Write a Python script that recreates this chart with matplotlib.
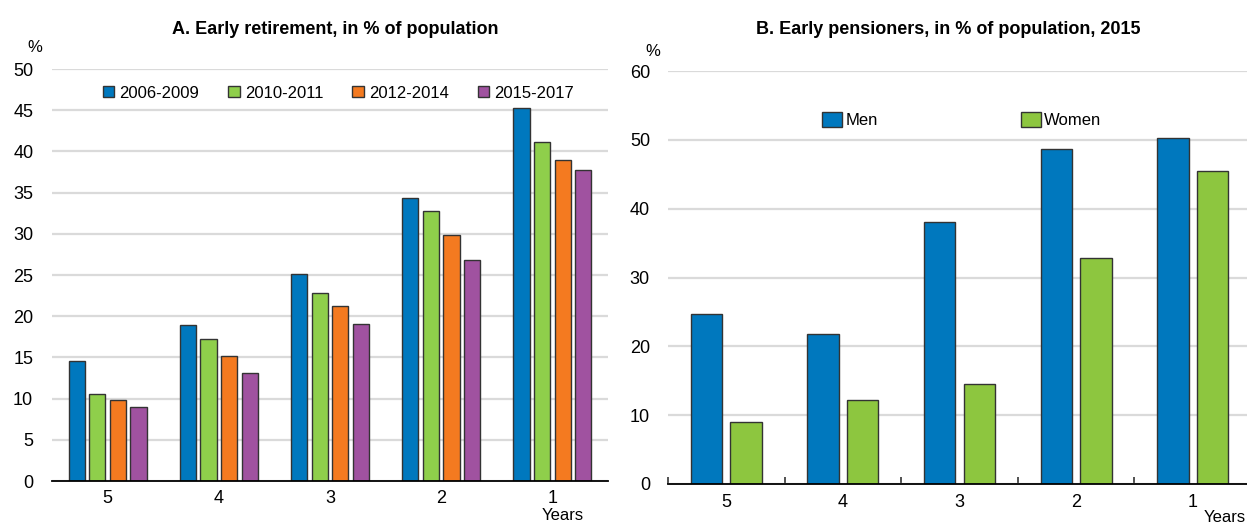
import matplotlib
matplotlib.use("Agg")
import matplotlib.pyplot as plt
import numpy as np
from matplotlib import font_manager as fm

names = {f.name for f in fm.fontManager.ttflist}
FONT = "Liberation Sans Narrow" if "Liberation Sans Narrow" in names else "Liberation Sans"
plt.rcParams['font.family'] = [FONT, 'DejaVu Sans']

# ---- data ----
categories = ["5", "4", "3", "2", "1"]
series_a = ["2006-2009", "2010-2011", "2012-2014", "2015-2017"]
a_2006_2009 = [14.6, 18.9, 25.1, 34.3, 45.3]
a_2010_2011 = [10.5, 17.2, 22.8, 32.8, 41.2]
a_2012_2014 = [9.8, 15.2, 21.2, 29.9, 38.9]
a_2015_2017 = [9.0, 13.1, 19.1, 26.8, 37.7]
series_b = ["Men", "Women"]
b_men = [24.7, 21.8, 38.1, 48.7, 50.3]
b_women = [9.0, 12.2, 14.5, 32.9, 45.5]

colors_a = ["#0078BE", "#8FCF4B", "#F47A20", "#A052A0"]
colors_b = ["#0078BE", "#8DC63F"]
GRID = "#DADADA"

W, H = 1247, 524
fig = plt.figure(figsize=(W / 100, H / 100), dpi=100)

def px_axes(left, right, top, bottom):
    return fig.add_axes([left / W, 1 - bottom / H, (right - left) / W, (bottom - top) / H])

def style(ax, ymax, step, ypad):
    ax.set_ylim(0, ymax)
    ax.set_yticks(np.arange(0, ymax + 0.1, step))
    ax.yaxis.grid(True, color=GRID, linewidth=1.6)
    ax.set_axisbelow(True)
    for s in ["left", "right", "top"]:
        ax.spines[s].set_visible(False)
    ax.spines["bottom"].set_linewidth(1.3)
    ax.tick_params(axis="y", length=0, pad=ypad, labelsize=13)
    ax.tick_params(axis="x", labelsize=13)

x = np.arange(len(categories))

# ---- Panel A ----
A_L, A_R, A_T, A_B = 52, 608, 69, 481
axA = px_axes(A_L, A_R, A_T, A_B)
vals_a = [a_2006_2009, a_2010_2011, a_2012_2014, a_2015_2017]
bw, pitch = 0.146, 0.185
for i, (v, c, lab) in enumerate(zip(vals_a, colors_a, series_a)):
    axA.bar(x + (i - 1.5) * pitch, v, bw, color=c, edgecolor="#333333", linewidth=1.0, label=lab)
axA.set_xlim(-0.5, 4.5)
axA.set_xticks(x)
axA.set_xticklabels(categories)
axA.tick_params(axis="x", length=0, pad=6.5)
style(axA, 50, 5, 13.5)
axA.legend(loc="center left", bbox_to_anchor=((103 - A_L) / (A_R - A_L), 1 - (93 - A_T) / (A_B - A_T)),
           ncol=4, frameon=False, fontsize=12, handlelength=0.68, handleheight=0.68,
           handletextpad=0.3, columnspacing=1.75, borderaxespad=0, borderpad=0)
fig.text(335 / W, 1 - 29 / H, "A. Early retirement, in % of population", ha="center", va="center",
         fontsize=13, fontweight="bold")
fig.text(35 / W, 1 - 47 / H, "%", ha="center", va="center", fontsize=12)
fig.text(563 / W, 1 - 516 / H, "Years", ha="center", va="center", fontsize=12)

# ---- Panel B ----
B_L, B_R, B_T, B_B = 668, 1251, 71, 484
axB = px_axes(B_L, B_R, B_T, B_B)
vals_b = [b_men, b_women]
bwb, pitchb = 0.27, 0.34
for i, (v, c, lab) in enumerate(zip(vals_b, colors_b, series_b)):
    axB.bar(x + (i - 0.5) * pitchb, v, bwb, color=c, edgecolor="#333333", linewidth=1.0, label=lab)
axB.set_xlim(-0.5, 4.5)
axB.set_xticks(x)
axB.set_xticklabels(categories)
axB.set_xticks(np.arange(-0.5, 4.6, 1.0), minor=True)
axB.tick_params(axis="x", which="major", length=0, pad=7.5)
axB.tick_params(axis="x", which="minor", length=5, width=1.2, direction="in", color="#333333")
style(axB, 60, 10, 13)
axB.legend(loc="center left", bbox_to_anchor=((822 - B_L) / (B_R - B_L), 1 - (120 - B_T) / (B_B - B_T)),
           ncol=2, frameon=False, fontsize=12, handlelength=1.2, handleheight=1.0,
           handletextpad=0.2, columnspacing=8.6, borderaxespad=0, borderpad=0)
fig.text(948 / W, 1 - 29 / H, "B. Early pensioners, in % of population, 2015", ha="center", va="center",
         fontsize=13, fontweight="bold")
fig.text(653 / W, 1 - 52 / H, "%", ha="center", va="center", fontsize=12)
fig.text(1246 / W, 1 - 518 / H, "Years", ha="right", va="center", fontsize=12)

fig.savefig("out.png", dpi=100)
